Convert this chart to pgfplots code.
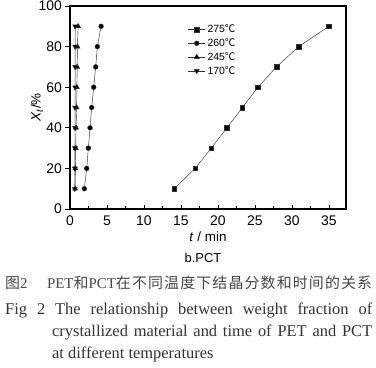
\documentclass[border=0pt]{standalone}
\usepackage{fontspec}
\setmainfont{Liberation Sans}
\newfontfamily\timesf{Liberation Serif}
\newfontfamily\cjk{Noto Sans CJK SC}
\usepackage{pgfplots}
\pgfplotsset{compat=1.18}
\begin{document}
\begin{tikzpicture}
\path[use as bounding box] (0,0) rectangle (376bp,-368bp);
\begin{axis}[
  at={(70bp,-209bp)}, anchor=south west,
  scale only axis, width=276bp, height=203bp,
  xmin=0, xmax=37.3, ymin=0, ymax=100,
  xtick={0,5,...,35}, ytick={0,20,...,100},
  minor x tick num=1,
  xtick pos=bottom, ytick pos=left,
  xtick align=inside, ytick align=outside,
  major tick length=4.5bp, minor tick length=3bp,
  axis line style={line width=1.2bp},
  every tick/.style={black, line width=0.8bp},
  /pgf/number format/assume math mode=true,
  tick label style={font=\fontsize{14}{16}\selectfont},
  xticklabel style={yshift=-3bp},
  xlabel={\textit{t} / min},
  ylabel={\textit{X}\textsubscript{\textit{t}}/\%},
  label style={font=\fontsize{13.5}{16}\selectfont},
  xlabel style={yshift=0bp},
  ylabel style={yshift=-11bp},
  legend style={draw=none, fill=none, at={(0.427,0.918)}, anchor=north west,
    font=\fontsize{10.5}{11}\selectfont, inner sep=0pt, row sep=0.3bp},
  legend cell align=left,
  every axis plot/.append style={line width=0.45bp, black!80},
]
\addplot[mark=square*, mark size=2.3bp, mark options={solid, fill=black}] coordinates {
 (14.1,10) (16.9,20) (19.1,30) (21.2,40) (23.3,50) (25.4,60) (27.9,70) (30.9,80) (35.0,90)};
\addplot[mark=*, mark size=2.4bp, mark options={fill=black}] coordinates {
 (1.94,10) (2.26,20) (2.48,30) (2.71,40) (2.93,50) (3.2,60) (3.47,70) (3.7,80) (4.2,90)};
\addplot[mark=triangle*, mark size=2.9bp, mark options={fill=black}] coordinates {
 (0.70,10) (0.72,20) (0.78,30) (0.82,40) (0.90,50) (0.93,60) (0.97,70) (1.0,80) (1.1,90)};
\addplot[mark=triangle*, mark size=2.9bp, mark options={fill=black, rotate=180}] coordinates {
 (0.65,10) (0.66,20) (0.67,30) (0.68,40) (0.68,50) (0.69,60) (0.70,70) (0.70,80) (0.70,90)};
\legend{275{\cjk ℃},260{\cjk ℃},245{\cjk ℃},170{\cjk ℃}}
\end{axis}
\node[anchor=base, font=\fontsize{13}{15}\selectfont, inner sep=0] at (203bp,-262bp) {b.PCT};
\node[anchor=base west, inner sep=0, text=black!72, font=\timesf\fontsize{15}{16}\selectfont] at (5bp,-288bp)
 {\makebox[367bp][s]{{\cjk 图}2\hspace{1.3em}PET{\cjk 和}PCT{\cjk 在}\hfil{\cjk 不}\hfil{\cjk 同}\hfil{\cjk 温}\hfil{\cjk 度}\hfil{\cjk 下}\hfil{\cjk 结}\hfil{\cjk 晶}\hfil{\cjk 分}\hfil{\cjk 数}\hfil{\cjk 和}\hfil{\cjk 时}\hfil{\cjk 间}\hfil{\cjk 的}\hfil{\cjk 关}\hfil{\cjk 系}}};
\node[anchor=base west, inner sep=0, text=black!80, font=\timesf\fontsize{16.5}{18}\selectfont] at (5bp,-314bp)
 {\makebox[367bp][s]{Fig 2 The relationship between weight fraction of}};
\node[anchor=base west, inner sep=0, text=black!80, font=\timesf\fontsize{16.5}{18}\selectfont] at (52bp,-336bp)
 {\makebox[320bp][s]{crystallized material and time of PET and PCT}};
\node[anchor=base west, inner sep=0, text=black!80, font=\timesf\fontsize{16.5}{18}\selectfont] at (52bp,-358bp)
 {at different temperatures};
\end{tikzpicture}
\end{document}
